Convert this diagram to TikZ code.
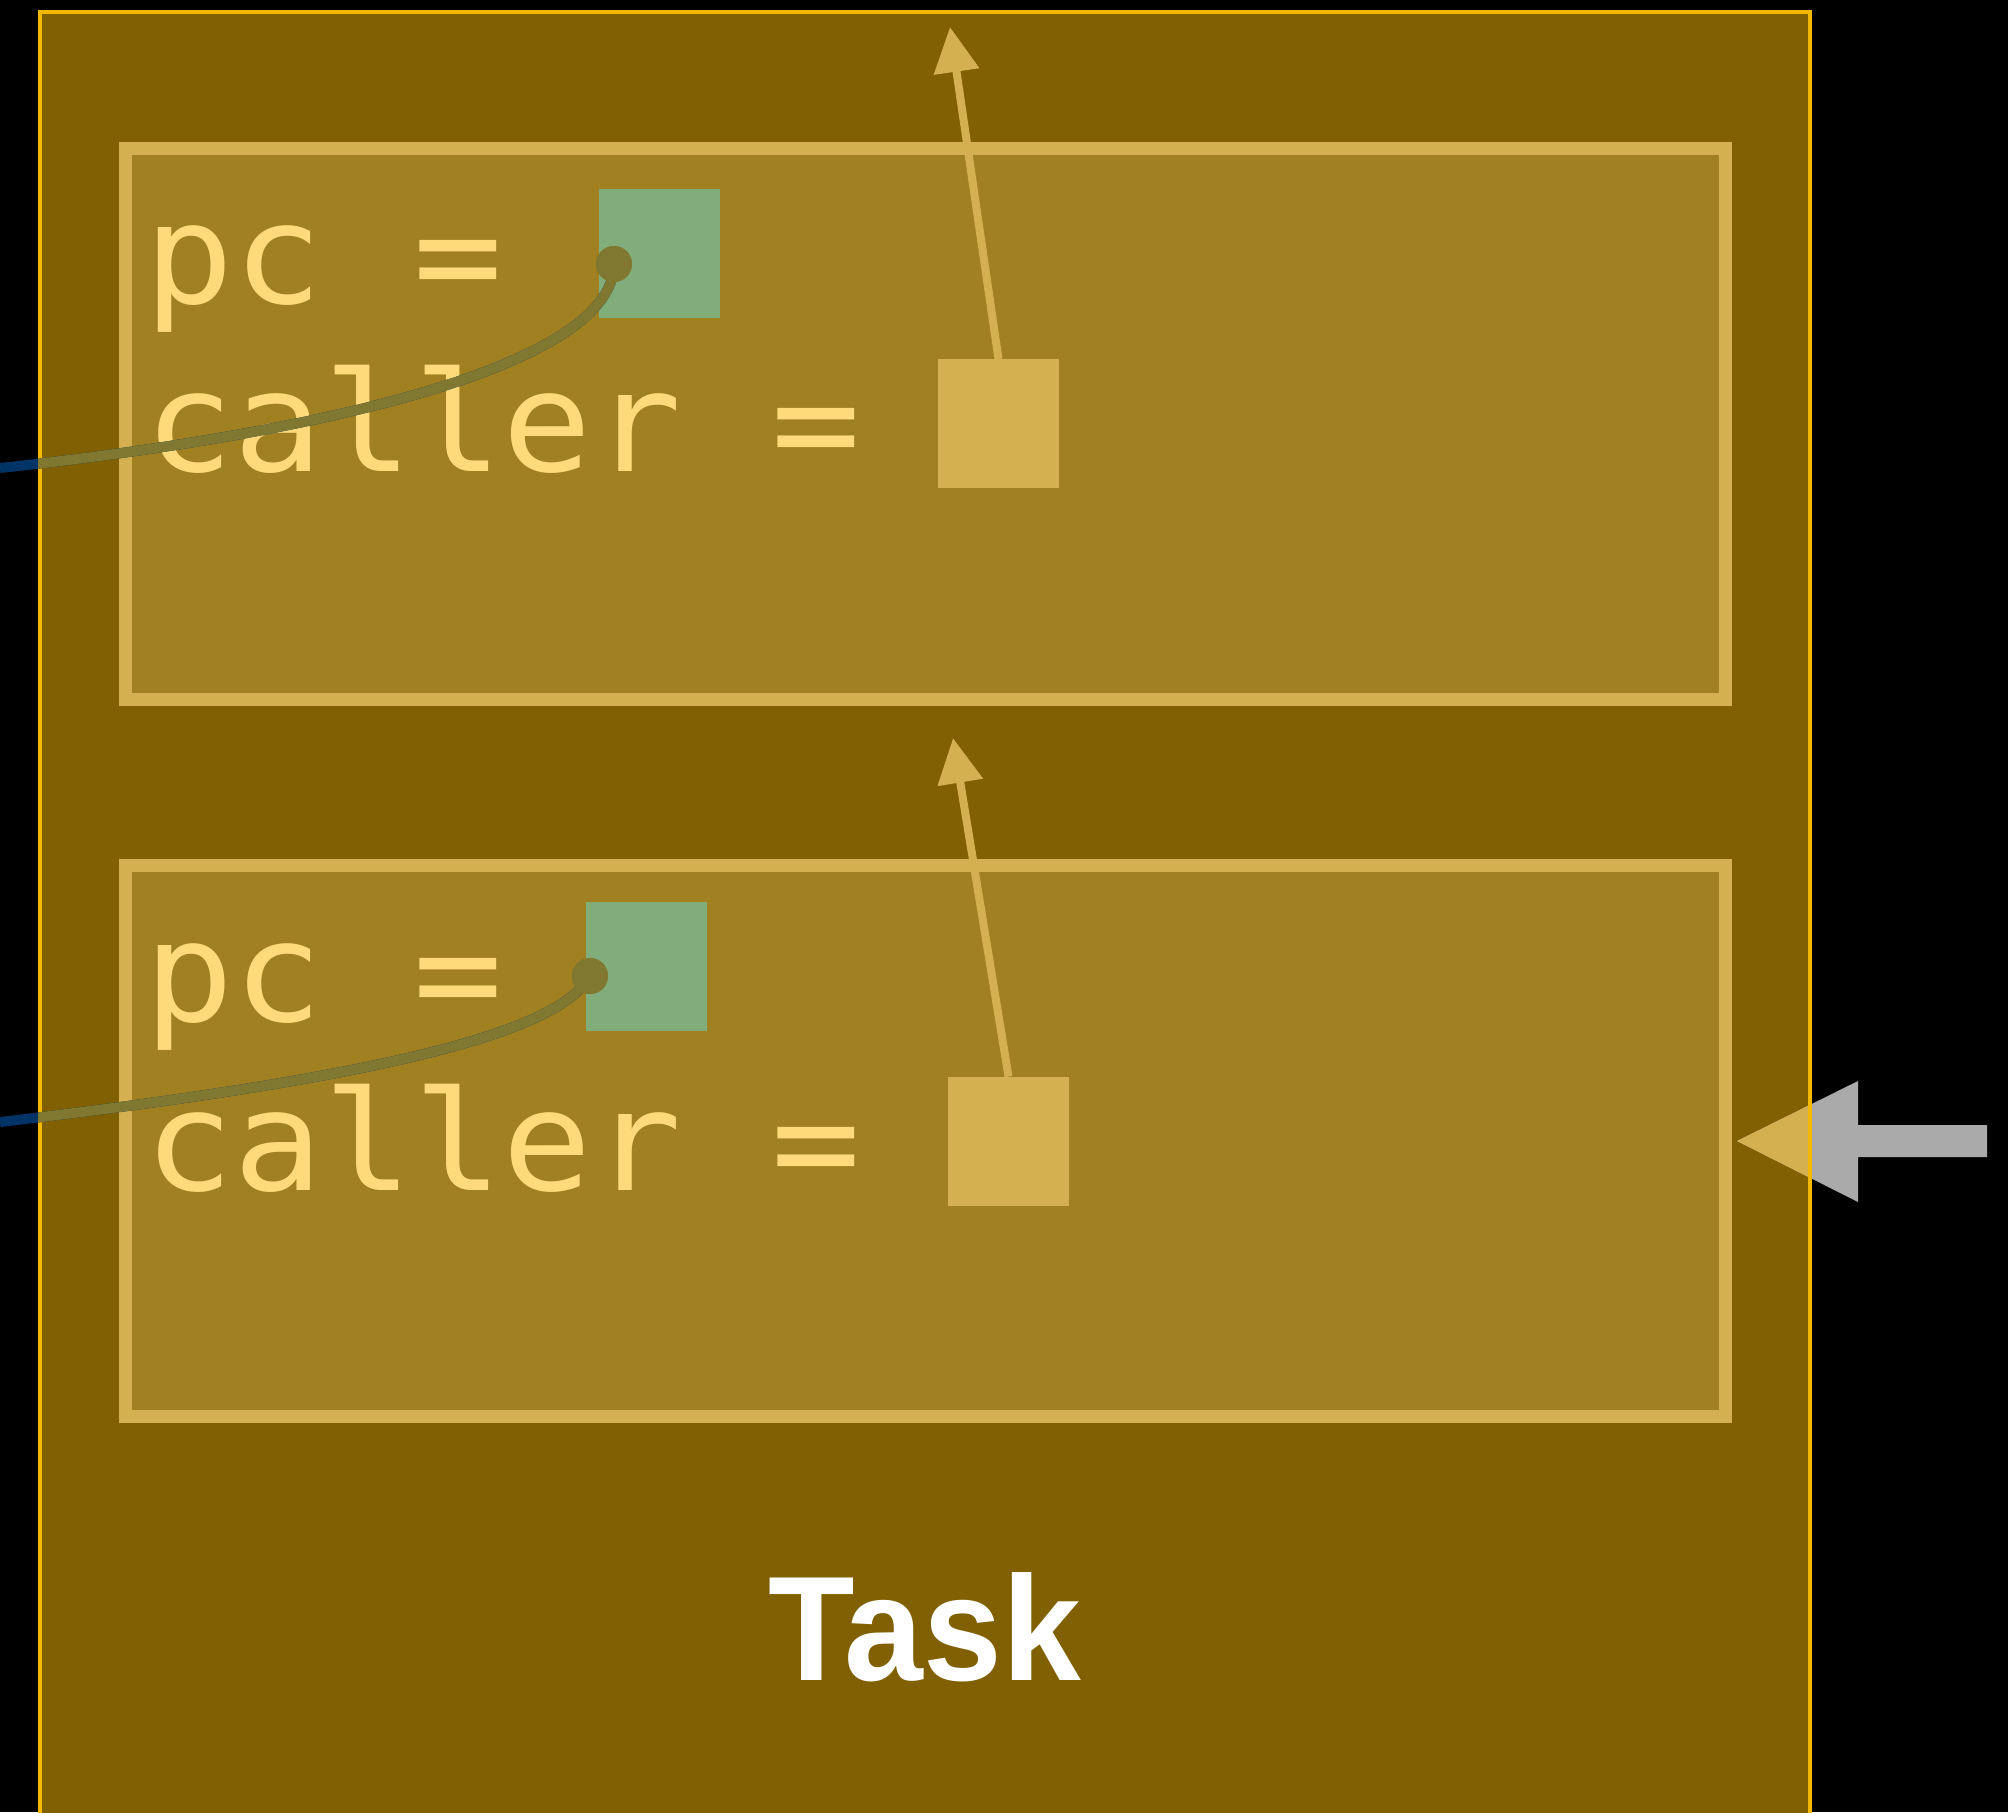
\documentclass[tikz,border=0pt]{standalone}
\usepackage{fontspec}
\newfontfamily\monof[FakeStretch=1.07]{DejaVu Sans Mono}
\newfontfamily\taskf[FakeStretch=0.95]{Liberation Sans}
\usetikzlibrary{arrows.meta}
\definecolor{taskfill}{HTML}{806000}
\definecolor{taskborder}{HTML}{F5B800}
\definecolor{framefill}{HTML}{A08020}
\definecolor{goldc}{HTML}{D4B050}
\definecolor{txtc}{HTML}{FFDA7A}
\definecolor{pcgreen}{HTML}{80AD7A}
\definecolor{dotolive}{HTML}{807830}
\definecolor{wireblue}{HTML}{003366}
\definecolor{arrowgray}{HTML}{AAAAAA}
\tikzset{
  taskbox/.style={draw=taskborder, fill=taskfill, line width=2pt, outer sep=0pt, inner sep=0pt,
    minimum width=885pt, minimum height=944pt},
  framebox/.style={draw=goldc, fill=framefill, line width=6.5pt, outer sep=0pt, inner sep=0pt,
    minimum width=799.75pt, minimum height=275.5pt},
  pcsq/.style={fill=pcgreen, inner sep=0pt, outer sep=0pt, minimum width=60.5pt, minimum height=64.5pt},
  callersq/.style={fill=goldc, inner sep=0pt, outer sep=0pt, minimum width=60.5pt, minimum height=64.5pt},
  codetxt/.style={text=txtc, anchor=base west, inner sep=0pt, font=\monof\fontsize{69.5pt}{69.5pt}\selectfont},
  pdot/.style={circle, fill=dotolive, inner sep=0pt, minimum size=18pt},
  callarrow/.style={draw=goldc, line width=4pt, -{Triangle[length=22.5pt,width=22pt]}},
  wire/.style={line width=5pt},
}
\begin{document}
\begin{tikzpicture}[x=0.5pt,y=-0.5pt]
\useasboundingbox (0,0) rectangle (2008,1812);
\fill[black] (0,0) rectangle (2008,1812);
\clip (0,0) rectangle (2008,1812);

\node[taskbox] (task) at (925,956) {};

\node[framebox] (frame1) at (925.25,424) {};
\node[framebox] (frame2) at (925.25,1141) {};

\node[pcsq] (pc1) at (659.5,253.5) {};
\node[pcsq] (pc2) at (646.5,966.5) {};
\node[callersq] (caller1) at (998.5,423.5) {};
\node[callersq] (caller2) at (1008.5,1141) {};

\node[codetxt] (pctxt1) at (144,303) {pc =};
\node[codetxt] (calltxt1) at (144,471) {caller =};
\node[codetxt] (pctxt2) at (144,1021) {pc =};
\node[codetxt] (calltxt2) at (144,1190) {caller =};

\node[text=white, anchor=base, inner sep=0pt, font=\taskf\bfseries\fontsize{74.5pt}{74.5pt}\selectfont] (tasklabel) at (925,1680) {Task};

\coordinate (tip1) at (950,27);
\coordinate (tip2) at (953,738);
\draw[callarrow] (caller1.north) -- (tip1);
\draw[callarrow] (caller2.north) -- (tip2);

% incoming gray arrow
\fill[arrowgray] (1987,1125) -- (1858,1125) -- (1858,1081) -- (1737,1141) -- (1858,1202) -- (1858,1157) -- (1987,1157) -- cycle;
\begin{scope}
  \clip (38,0) rectangle (1808.5,1812);
  \fill[goldc] (1858,1081) -- (1737,1141) -- (1858,1202) -- cycle;
\end{scope}
\draw[taskborder, line width=2pt] (task.north west) rectangle (task.south east);

% wires
\node[pdot] (dot1) at (614,264) {};
\node[pdot] (dot2) at (590,976) {};
\coordinate (w1end) at (0,468);
\coordinate (w2end) at (0,1122);
\draw[wire, wireblue] (dot1.center) .. controls (614,360) and (350,430) .. (w1end);
\draw[wire, wireblue] (dot2.center) .. controls (560,1030) and (400,1075) .. (w2end);
\begin{scope}
  \clip (38,0) rectangle (2008,1812);
  \draw[wire, dotolive] (dot1.center) .. controls (614,360) and (350,430) .. (w1end);
  \draw[wire, dotolive] (dot2.center) .. controls (560,1030) and (400,1075) .. (w2end);
\end{scope}
\node[pdot] (dot1top) at (dot1) {};
\node[pdot] (dot2top) at (dot2) {};
\end{tikzpicture}
\end{document}
